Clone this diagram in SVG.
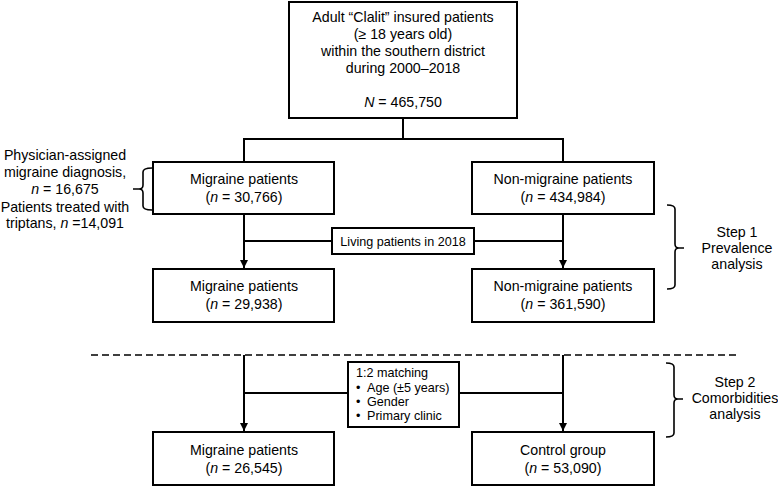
<svg xmlns="http://www.w3.org/2000/svg" width="778" height="487" viewBox="0 0 778 487">
<style>
text{font-family:"Liberation Sans",Arial,sans-serif;fill:#000}
.t{font-size:14.2px;text-anchor:middle}
.s{font-size:12.6px}
.box{fill:#fff;stroke:#000;stroke-width:2}
.ln{fill:none;stroke:#000;stroke-width:2}
.br{fill:none;stroke:#000;stroke-width:1.6}
</style>
<defs>
<marker id="ah" viewBox="0 0 8 8" refX="8" refY="4" markerWidth="8" markerHeight="8" markerUnits="userSpaceOnUse" orient="auto">
<path d="M0,0 L8,4 L0,8 z" fill="#000"/>
</marker>
</defs>
<rect width="778" height="487" fill="#fff"/>
<g id="connectors">
<path class="ln" d="M403,118 V139 M244,139 H563 M244,138 V162 M563,138 V162"/>
<path class="ln" d="M244,214 V268" marker-end="url(#ah)"/>
<path class="ln" d="M563,214 V268" marker-end="url(#ah)"/>
<path class="ln" d="M244,241 H332 M474,241 H563"/>
<path class="ln" d="M244,355 V431" marker-end="url(#ah)"/>
<path class="ln" d="M563,355 V431" marker-end="url(#ah)"/>
<path class="ln" d="M244,393 H348 M459,393 H563"/>
<line x1="91" y1="355" x2="738" y2="355" stroke="#000" stroke-width="1.6" stroke-dasharray="7 4"/>
</g>
<g id="top">
<rect class="box" x="289" y="2" width="228" height="116"/>
<text class="t" x="403" y="22">Adult “Clalit” insured patients</text>
<text class="t" x="403" y="39">(≥ 18 years old)</text>
<text class="t" x="403" y="56">within the southern district</text>
<text class="t" x="403" y="73">during 2000–2018</text>
<text class="t" x="403" y="107"><tspan font-style="italic">N</tspan> = 465,750</text>
</g>
<g id="migraine1">
<rect class="box" x="153" y="162" width="181" height="52"/>
<text class="t" x="244" y="184">Migraine patients</text>
<text class="t" x="244" y="202">(<tspan font-style="italic">n</tspan> = 30,766)</text>
</g>
<g id="nonmigraine1">
<rect class="box" x="472" y="162" width="182" height="52"/>
<text class="t" x="563" y="184">Non-migraine patients</text>
<text class="t" x="563" y="202">(<tspan font-style="italic">n</tspan> = 434,984)</text>
</g>
<g id="living">
<rect class="box" x="332" y="228" width="142" height="26"/>
<text class="s" x="403" y="245.5" text-anchor="middle">Living patients in 2018</text>
</g>
<g id="migraine2">
<rect class="box" x="153" y="269" width="181" height="53"/>
<text class="t" x="244" y="291">Migraine patients</text>
<text class="t" x="244" y="309">(<tspan font-style="italic">n</tspan> = 29,938)</text>
</g>
<g id="nonmigraine2">
<rect class="box" x="472" y="269" width="182" height="53"/>
<text class="t" x="563" y="291">Non-migraine patients</text>
<text class="t" x="563" y="309">(<tspan font-style="italic">n</tspan> = 361,590)</text>
</g>
<g id="matching">
<rect class="box" x="348" y="362" width="111" height="65"/>
<text class="s" x="356" y="377">1:2 matching</text>
<text class="s" x="356" y="392">•</text><text class="s" x="367" y="392">Age (±5 years)</text>
<text class="s" x="356" y="406">•</text><text class="s" x="367" y="406">Gender</text>
<text class="s" x="356" y="420">•</text><text class="s" x="367" y="420">Primary clinic</text>
</g>
<g id="migraine3">
<rect class="box" x="153" y="432" width="181" height="53"/>
<text class="t" x="244" y="455">Migraine patients</text>
<text class="t" x="244" y="473">(<tspan font-style="italic">n</tspan> = 26,545)</text>
</g>
<g id="control">
<rect class="box" x="472" y="432" width="182" height="53"/>
<text class="t" x="563" y="455">Control group</text>
<text class="t" x="563" y="473">(<tspan font-style="italic">n</tspan> = 53,090)</text>
</g>
<g id="left-note">
<path class="br" d="M152,168 Q143,168 143,172 V185 Q143,189 139,189 H133 M139,189 Q143,189 143,193 V206 Q143,210 152,210"/>
<text class="t" x="65" y="160">Physician-assigned</text>
<text class="t" x="65" y="177">migraine diagnosis,</text>
<text class="t" x="65" y="194"><tspan font-style="italic">n</tspan> = 16,675</text>
<text class="t" x="65" y="212">Patients treated with</text>
<text class="t" x="65" y="228">triptans, <tspan font-style="italic">n</tspan> =14,091</text>
</g>
<g id="step1">
<path class="br" d="M667,205 Q675,205 675,209 V244 Q675,248 679,248 H684 M679,248 Q675,248 675,252 V285 Q675,289 667,289"/>
<text class="t" x="737" y="237">Step 1</text>
<text class="t" x="737" y="253">Prevalence</text>
<text class="t" x="737" y="269">analysis</text>
</g>
<g id="step2">
<path class="br" d="M666,363 Q674,363 674,367 V395 Q674,399 678,399 H683 M678,399 Q674,399 674,403 V433 Q674,437 666,437"/>
<text class="t" x="735" y="387">Step 2</text>
<text class="t" x="735" y="403">Comorbidities</text>
<text class="t" x="735" y="419">analysis</text>
</g>
</svg>
